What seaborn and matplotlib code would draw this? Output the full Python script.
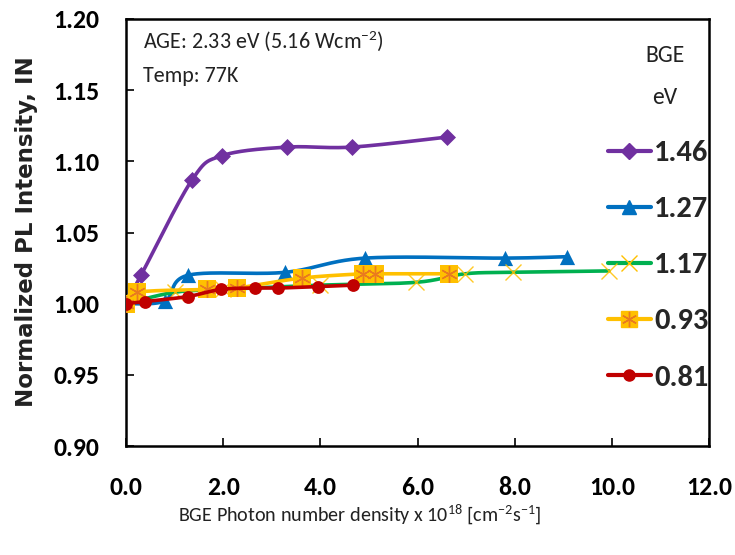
import numpy as np
import matplotlib
matplotlib.use("Agg")
import matplotlib.pyplot as plt
from matplotlib import font_manager as fm
from matplotlib.font_manager import FontProperties
from matplotlib.lines import Line2D
import seaborn as sns

# Background-excitation (BGE) photon energies, eV
bge_labels = ["1.46", "1.27", "1.17", "0.93", "0.81"]

# BGE photon number density (x 1e18 cm^-2 s^-1) and normalized PL intensity
x_146 = [0.0, 0.31, 1.36, 1.98, 3.31, 4.65, 6.60]
y_146 = [1.000, 1.020, 1.087, 1.104, 1.110, 1.110, 1.117]

x_127 = [0.0, 0.80, 1.28, 3.27, 4.92, 7.80, 9.07]
y_127 = [1.000, 1.002, 1.020, 1.022, 1.032, 1.032, 1.033]

x_117 = [0.0, 1.00, 2.00, 4.00, 5.97, 6.98, 7.96, 9.94]
y_117 = [1.000, 1.008, 1.010, 1.013, 1.015, 1.021, 1.022, 1.023]

x_093 = [0.0, 0.23, 1.67, 2.28, 3.62, 4.88, 5.12, 6.65]
y_093 = [1.000, 1.008, 1.010, 1.011, 1.018, 1.021, 1.021, 1.021]

x_081 = [0.0, 0.39, 1.27, 1.95, 2.65, 3.13, 3.96, 4.67]
y_081 = [1.000, 1.0015, 1.005, 1.010, 1.011, 1.011, 1.012, 1.013]

x_ticks = [0, 2, 4, 6, 8, 10, 12]
x_tick_labels = ["0.0", "2.0", "4.0", "6.0", "8.0", "10.0", "12.0"]
y_ticks = [0.90, 0.95, 1.00, 1.05, 1.10, 1.15, 1.20]
y_tick_labels = ["0.90", "0.95", "1.00", "1.05", "1.10", "1.15", "1.20"]

sns.set_theme(style="white")
plt.rcParams["font.family"] = ["Liberation Sans", "DejaVu Sans"]


def _weight(f):
    w = f.weight
    if isinstance(w, (int, float)):
        return int(w)
    return 700 if "bold" in str(w).lower() else 400


def pick_narrow(bold):
    """Find a narrow sans-serif face file; fall back to Liberation Sans."""
    pref = ["Liberation Sans Narrow", "Carlito", "Noto Sans", "Open Sans",
            "Roboto", "DejaVu Sans"]
    best, best_key = None, None
    for f in fm.fontManager.ttflist:
        if f.style != "normal":
            continue
        w = _weight(f)
        if bold and not (650 <= w <= 750):
            continue
        if not bold and w != 400:
            continue
        tag = (f.name + " " + f.fname).lower()
        if f.name == "Carlito":
            width_rank = 0
        elif "semicondensed" in tag or "semi-condensed" in tag or f.stretch == "semi-condensed":
            width_rank = 0
        elif "narrow" in tag:
            width_rank = 0
        elif "extracondensed" in tag or "extra-condensed" in tag:
            continue
        elif "condensed" in tag or f.stretch == "condensed":
            width_rank = 1
        else:
            continue
        name_rank = next((i for i, p in enumerate(pref) if p.lower() in tag), len(pref))
        key = (name_rank, width_rank)
        if best_key is None or key < best_key:
            best, best_key = f, key
    if best is None:
        return None
    return best.fname


reg_file = pick_narrow(False)
bold_file = pick_narrow(True)


def font(size, bold=False):
    path = bold_file if bold else reg_file
    if path:
        return FontProperties(fname=path, size=size)
    return FontProperties(family="Liberation Sans", size=size,
                          weight="bold" if bold else "normal")


# superscripts in the same face as the surrounding text
plt.rcParams["mathtext.fontset"] = "custom"
_math_family = font(10).get_name()
plt.rcParams["mathtext.rm"] = _math_family
plt.rcParams["mathtext.it"] = _math_family
plt.rcParams["mathtext.bf"] = _math_family


def smooth(xs, ys, n=40):
    """Bezier smoothing through the points (Catmull-Rom style control points)."""
    p = np.column_stack([xs, ys]).astype(float)
    out = [p[0]]
    t = np.linspace(0, 1, n)[1:, None]
    for i in range(len(p) - 1):
        p0 = p[i - 1] if i > 0 else p[i]
        p1, p2 = p[i], p[i + 1]
        p3 = p[i + 2] if i + 2 < len(p) else p[i + 1]
        b1 = p1 + (p2 - p0) / 6.0
        b2 = p2 - (p3 - p1) / 6.0
        seg = ((1 - t) ** 3) * p1 + 3 * ((1 - t) ** 2) * t * b1 \
            + 3 * (1 - t) * t ** 2 * b2 + t ** 3 * p2
        out.extend(seg)
    return np.array(out)


fig = plt.figure(figsize=(7.35, 5.55), dpi=100)
W, H = 735, 555
ax = fig.add_axes([126 / W, 1 - 446 / H, (709 - 126) / W, (446 - 19) / H])

purple, blue, green, gold, red = "#7030A0", "#0070C0", "#00B050", "#FFC000", "#C00000"
star_col = "#E97A1F"
LW = 2.6

series = [
    (x_146, y_146, purple),
    (x_127, y_127, blue),
    (x_117, y_117, green),
    (x_093, y_093, gold),
    (x_081, y_081, red),
]
for k, (xs, ys, col) in enumerate(series):
    sm = smooth(xs, ys)
    sns.lineplot(x=sm[:, 0], y=sm[:, 1], sort=False, estimator=None,
                 color=col, lw=LW, ax=ax, zorder=3 + 3 * k)

z = 4
sns.scatterplot(x=x_146, y=y_146, marker="D", s=75, color=purple,
                edgecolor=purple, linewidth=0, ax=ax, zorder=z)
sns.scatterplot(x=x_127, y=y_127, marker="^", s=120, color=blue,
                edgecolor=blue, linewidth=0, ax=ax, zorder=z + 3)
ax.plot(x_117, y_117, ls="none", marker="x", ms=12, mew=1.0, color=gold,
        alpha=0.85, zorder=z + 6)
sns.scatterplot(x=x_093, y=y_093, marker="s", s=150, color=gold,
                edgecolor=gold, linewidth=0, ax=ax, zorder=z + 9)
ax.plot(x_093, y_093, ls="none", marker=(6, 2, 0), ms=12, mew=1.0,
        color=star_col, zorder=z + 9.5)
sns.scatterplot(x=x_081, y=y_081, marker="o", s=85, color=red,
                edgecolor=red, linewidth=0, ax=ax, zorder=z + 12)

ax.set_xlim(0, 12)
ax.set_ylim(0.90, 1.20)
ax.set_xticks(x_ticks)
ax.set_xticklabels(x_tick_labels)
ax.set_yticks(y_ticks)
ax.set_yticklabels(y_tick_labels)
ax.tick_params(axis="both", direction="in", length=6, width=1.2, color="black",
               labelcolor="black")
ax.tick_params(axis="y", pad=19, left=True)
ax.tick_params(axis="x", pad=21.5, bottom=True)
for lab in ax.get_xticklabels() + ax.get_yticklabels():
    lab.set_fontproperties(font(18.5, bold=True))
for sp in ax.spines.values():
    sp.set_visible(True)
    sp.set_color("black")
    sp.set_linewidth(1.8)
ax.set_xlabel("")
ax.set_ylabel("")
ax.grid(False)

# Legend entries
handles = [
    Line2D([], [], color=purple, lw=3, marker="D", ms=8, mfc=purple, mec=purple),
    Line2D([], [], color=blue, lw=3, marker="^", ms=10, mfc=blue, mec=blue),
    Line2D([], [], color=green, lw=3, marker="x", ms=12, mew=1.0, mec=gold),
    (Line2D([], [], color=gold, lw=3, marker="s", ms=11, mfc=gold, mec=gold),
     Line2D([], [], ls="none", marker=(6, 2, 0), ms=11, mew=1.0, color=star_col)),
    Line2D([], [], color=red, lw=3, marker="o", ms=8, mfc=red, mec=red),
]
leg = ax.legend(handles, bge_labels, loc="upper left",
                bbox_to_anchor=(608 / W, 1 - 140 / H), bbox_transform=fig.transFigure,
                frameon=False, borderpad=0, borderaxespad=0,
                handlelength=1.4, handletextpad=0.12, labelspacing=0.97,
                prop=font(22, bold=True))
fig.text(665 / W, 1 - 55 / H, "BGE", ha="center", va="center",
         fontproperties=font(17), color="#222222")
fig.text(665 / W, 1 - 97 / H, "eV", ha="center", va="center",
         fontproperties=font(17), color="#222222")

# Excitation conditions
fig.text(143 / W, 1 - 48 / H, "AGE: 2.33 eV (5.16 Wcm$^{-2}$)", ha="left",
         va="baseline", fontproperties=font(15.8), color="#222222")
fig.text(143 / W, 1 - 82 / H, "Temp: 77K", ha="left", va="baseline",
         fontproperties=font(15.8), color="#222222")

# Axis titles
fig.text(360 / W, 1 - 521 / H,
         "BGE Photon number density x 10$^{18}$ [cm$^{-2}$s$^{-1}$]",
         ha="center", va="baseline", fontproperties=font(14.5), color="#222222")
fig.text(27 / W, 1 - 232 / H, "Normalized PL Intensity, IN", rotation=90,
         ha="center", va="center", fontsize=16.5, fontweight="bold",
         family="DejaVu Sans", color="#222222")

fig.savefig("out.png", dpi=100)
